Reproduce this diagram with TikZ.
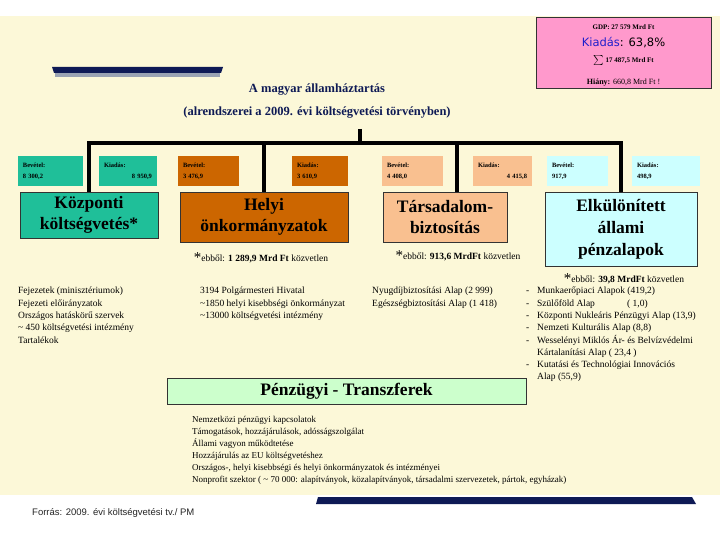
\documentclass[tikz,border=0pt]{standalone}
\usepackage{fontspec}
\setmainfont{Liberation Serif}
\newfontfamily\sansf{Liberation Sans}
\newfontfamily\dejavu{DejaVu Sans}
\definecolor{cream}{HTML}{FCF8D8}
\definecolor{tealc}{HTML}{1FBF99}
\definecolor{brownc}{HTML}{CC6600}
\definecolor{peach}{HTML}{F9C090}
\definecolor{cyanc}{HTML}{CCFFFF}
\definecolor{pinkc}{HTML}{FF99CC}
\definecolor{greenc}{HTML}{CCFFCC}
\definecolor{navy}{HTML}{0E1A55}
\definecolor{bargray}{HTML}{9AA3B3}
\definecolor{kblue}{HTML}{1F1FCC}
\tikzset{
  bigbox/.style={draw=black!80, line width=0.8pt, align=center, inner sep=0pt,
     font=\bfseries\fontsize{17.5}{20.5}\selectfont},
  smallbox/.style={inner sep=0pt, align=left, minimum height=30pt,
     font=\bfseries\fontsize{6.5}{8}\selectfont},
  conn/.style={line width=3.5pt, black, line join=miter},
  lst/.style={anchor=north west, align=left, inner sep=0pt, font=\fontsize{9.5}{12.3}\selectfont},
  fnote/.style={inner sep=0pt, font=\fontsize{9.5}{11}\selectfont},
  titlef/.style={inner sep=0pt, text=navy, font=\bfseries\fontsize{12.5}{14}\selectfont},
}
\newcommand{\bigstar}{\raisebox{-1pt}{\fontsize{15}{15}\selectfont *}}
\begin{document}
\begin{tikzpicture}[x=1pt,y=-1pt]
\useasboundingbox (0,0) rectangle (720,540);
\fill[white] (0,0) rectangle (720,540);
\fill[cream] (0,16) rectangle (720,495);
% decorative bars
\fill[navy] (52,67) -- (223,67) -- (221,73) -- (54,73) -- cycle;
\fill[bargray] (55,73) rectangle (220,77);
\fill[navy] (318,497) -- (692,497) -- (696,504) -- (316,504) -- cycle;

% summary box
\node[draw=black!80, line width=0.8pt, fill=pinkc, minimum width=175pt, minimum height=71pt, inner sep=0pt] (pink) at (623.5,52.5) {};
\node[inner sep=0pt, font=\bfseries\fontsize{7}{8}\selectfont] (gdp) at (623.5,27) {GDP: 27 579 Mrd Ft};
\node[inner sep=0pt, font=\dejavu\fontsize{11.5}{13}\selectfont] (kiad) at (623.5,43) {\textcolor{kblue}{Kiadás}: 63,8\%};
\node[inner sep=0pt, font=\bfseries\fontsize{7}{8}\selectfont] (sum) at (623.5,61) {$\scriptstyle\sum$ 17 487,5 Mrd Ft};
\node[inner sep=0pt, font=\fontsize{8}{9}\selectfont] (hiany) at (623.5,83) {\textbf{Hiány:} 660,8 Mrd Ft !};

% title
\node[titlef] (t1) at (317,90) {A magyar államháztartás};
\node[titlef] (t2) at (317,113) {(alrendszerei a 2009. évi költségvetési törvényben)};

% big boxes
\node[bigbox, fill=tealc, minimum width=138pt, minimum height=46pt] (kozp) at (89,215) {Központi\\költségvetés*};
\node[bigbox, fill=brownc, minimum width=168pt, minimum height=50pt] (helyi) at (264,217) {Helyi\\önkormányzatok};
\node[bigbox, fill=peach, minimum width=124pt, minimum height=50pt] (tb) at (445,217) {Társadalom-\\biztosítás};
\node[bigbox, fill=cyanc, minimum width=152pt, minimum height=74pt, font=\bfseries\fontsize{17.5}{22}\selectfont] (elk) at (621,229) {Elkülönített\\állami\\pénzalapok};

% connectors
\coordinate (trunk) at (360,129);
\coordinate (bus) at (360,143);
\draw[conn] (trunk) -- (bus);
\draw[conn] (kozp.north) |- (bus) -| (elk.north);
\draw[conn] (helyi.north) -- (helyi.north |- bus);
\draw[conn] ([xshift=12pt]tb.north) -- ([xshift=12pt]tb.north |- bus);

% small boxes
\node[smallbox, fill=tealc, minimum width=65pt, text width=55pt] (tbev) at (50.5,171) {Bevétel:\\[3pt]8 300,2};
\node[smallbox, fill=tealc, minimum width=58pt, text width=48pt] (tkia) at (128,171) {Kiadás:\\[3pt]\hspace*{\fill}8 950,9};
\node[smallbox, fill=brownc, minimum width=61pt, text width=51pt] (hbev) at (208.5,171) {Bevétel:\\[3pt]3 476,9};
\node[smallbox, fill=brownc, minimum width=56pt, text width=46pt] (hkia) at (320,171) {Kiadás:\\[3pt]3 610,9};
\node[smallbox, fill=peach, minimum width=61pt, text width=51pt] (pbev) at (412.5,171) {Bevétel:\\[3pt]4 408,0};
\node[smallbox, fill=peach, minimum width=59pt, text width=49pt] (pkia) at (502.5,171) {Kiadás:\\[3pt]\hspace*{\fill}4 415,8};
\node[smallbox, fill=cyanc, minimum width=61pt, text width=51pt] (cbev) at (577.5,171) {Bevétel:\\[3pt]917,9};
\node[smallbox, fill=cyanc, minimum width=68pt, text width=58pt] (ckia) at (666,171) {Kiadás:\\[3pt]498,9};

% footnotes
\node[fnote] (fn1) at (261,258) {\bigstar ebből: \textbf{1 289,9 Mrd Ft} közvetlen};
\node[fnote] (fn2) at (458,256) {\bigstar ebből: \textbf{913,6 MrdFt} közvetlen};
\node[fnote] (fn3) at (624,279) {\bigstar ebből: \textbf{39,8 MrdFt} közvetlen};

% lists
\node[lst] (l1) at (18,287) {Fejezetek (minisztériumok)\\Fejezeti előirányzatok\\Országos hatáskörű szervek\\\textasciitilde{} 450 költségvetési intézmény\\Tartalékok};
\node[lst] (l2) at (200,287) {3194 Polgármesteri Hivatal\\\textasciitilde1850 helyi kisebbségi önkormányzat\\\textasciitilde13000 költségvetési intézmény};
\node[lst] (l3) at (372,287) {Nyugdíjbiztosítási Alap (2 999)\\Egészségbiztosítási Alap (1 418)};
\node[lst] (l4) at (526,287) {\makebox[11pt][l]{-}Munkaerőpiaci Alapok (419,2)\\
\makebox[11pt][l]{-}\makebox[90pt][l]{Szülőföld Alap}( 1,0)\\
\makebox[11pt][l]{-}Központi Nukleáris Pénzügyi Alap (13,9)\\
\makebox[11pt][l]{-}Nemzeti Kulturális Alap (8,8)\\
\makebox[11pt][l]{-}Wesselényi Miklós Ár- és Belvízvédelmi\\
\hspace*{11pt}Kártalanítási Alap ( 23,4 )\\
\makebox[11pt][l]{-}Kutatási és Technológiai Innovációs\\
\hspace*{11pt}Alap (55,9)};

% transfers
\node[bigbox, fill=greenc, minimum width=359pt, minimum height=26pt] (transf) at (346.5,391) {Pénzügyi - Transzferek};
\node[lst, font=\fontsize{9}{12}\selectfont] (l5) at (192,416.5) {Nemzetközi pénzügyi kapcsolatok\\Támogatások, hozzájárulások, adósságszolgálat\\Állami vagyon működtetése\\Hozzájárulás az EU költségvetéshez\\Országos-, helyi kisebbségi és helyi önkormányzatok és intézményei\\Nonprofit szektor ( \textasciitilde{} 70 000: alapítványok, közalapítványok, társadalmi szervezetek, pártok, egyházak)};

\node[anchor=west, inner sep=0pt, font=\sansf\fontsize{9.5}{11}\selectfont, text=black!85] (src) at (32,513) {Forrás: 2009. évi költségvetési tv./ PM};
\end{tikzpicture}
\end{document}
